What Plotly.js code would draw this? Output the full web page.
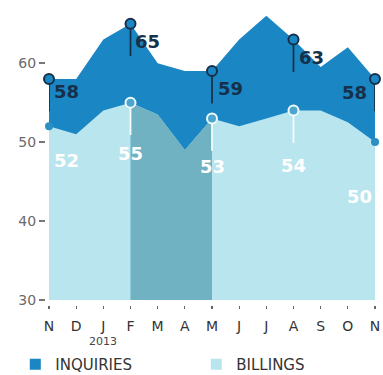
<!DOCTYPE html>
<html>
<head>
<meta charset="utf-8">
<script src="https://cdn.plot.ly/plotly-3.0.1.min.js"></script>
<style>
  html, body { margin: 0; padding: 0; background: #ffffff; }
  #chart { width: 383px; height: 375px; }
</style>
</head>
<body>
<div id="chart"></div>
<script>
// ---- data ----
const months = ['N','D','J','F','M','A','M','J','J','A','S','O','N'];
const yearLabel = '2013';
const yearIndex = 2;
const inquiries = [58, 58, 63, 65, 60, 59, 59, 63, 66, 63, 59.5, 62, 58];
const billings  = [52, 51, 54, 55, 53.5, 49, 53, 52, 53, 54, 54, 52.5, 50];
const inqLabelIdx = [0, 3, 6, 9, 12];
const bilLabelIdx = [0, 3, 6, 9, 12];
const bilLeaderIdx = [3, 6, 9];
const shadeFrom = 3, shadeTo = 6;
const yTicks = [30, 40, 50, 60];

// ---- styles ----
const BLUE = '#1a86c3';
const LIGHT = '#b9e5ee';
const SHADE = '#70b1c2';
const NAVY = '#17304a';
const FONT = 'DejaVu Sans, sans-serif';
const leaderLen = 4.1;
// per-label nudges (pixels) : [xanchor, xshift, yshift]
const inqNudge = [['left',3,0],['left',2,-5],['left',4,-5],['left',3,-6],['right',-6,-1]];
const bilNudge = [['left',3,-22],['center',0,-38],['center',0,-36],['center',0,-42],['right',-1,-42]];

const xs = months.map((_, i) => i);

const traces = [];
traces.push({ x: xs, y: inquiries, type: 'scatter', mode: 'lines', fill: 'tozeroy',
  fillcolor: BLUE, line: { width: 0, color: BLUE }, showlegend: false, hoverinfo: 'skip' });
traces.push({ x: xs, y: billings, type: 'scatter', mode: 'lines', fill: 'tozeroy',
  fillcolor: LIGHT, line: { width: 0, color: LIGHT }, showlegend: false, hoverinfo: 'skip' });
traces.push({ x: xs.slice(shadeFrom, shadeTo + 1), y: billings.slice(shadeFrom, shadeTo + 1),
  type: 'scatter', mode: 'lines', fill: 'tozeroy', fillcolor: SHADE,
  line: { width: 0, color: SHADE }, showlegend: false, hoverinfo: 'skip' });

// leader lines
const lx = [], ly = [];
inqLabelIdx.forEach(i => { lx.push(i, i, null); ly.push(inquiries[i], inquiries[i] - leaderLen, null); });
traces.push({ x: lx, y: ly, type: 'scatter', mode: 'lines', line: { color: NAVY, width: 1.8 },
  showlegend: false, hoverinfo: 'skip', cliponaxis: false });
const bx = [], by = [];
bilLeaderIdx.forEach(i => { bx.push(i, i, null); by.push(billings[i], billings[i] - leaderLen, null); });
traces.push({ x: bx, y: by, type: 'scatter', mode: 'lines', line: { color: '#f4fcfd', width: 1.8 },
  showlegend: false, hoverinfo: 'skip' });

// markers
traces.push({ x: inqLabelIdx, y: inqLabelIdx.map(i => inquiries[i]), type: 'scatter', mode: 'markers',
  marker: { size: 10, color: BLUE, line: { color: NAVY, width: 2 } }, showlegend: false,
  hoverinfo: 'skip', cliponaxis: false });
traces.push({ x: bilLeaderIdx, y: bilLeaderIdx.map(i => billings[i]), type: 'scatter', mode: 'markers',
  marker: { size: 10, color: '#4ea6cf', line: { color: '#eefafc', width: 2 } }, showlegend: false,
  hoverinfo: 'skip', cliponaxis: false });
const bilDots = bilLabelIdx.filter(i => bilLeaderIdx.indexOf(i) < 0);
traces.push({ x: bilDots, y: bilDots.map(i => billings[i]), type: 'scatter', mode: 'markers',
  marker: { size: 8, color: '#2a8fc2' }, showlegend: false, hoverinfo: 'skip', cliponaxis: false });

// legend entries
traces.push({ x: [null], y: [null], type: 'scatter', mode: 'markers', name: 'INQUIRIES',
  marker: { symbol: 'square', size: 11, color: BLUE } });
traces.push({ x: [null], y: [null], type: 'scatter', mode: 'markers', name: 'BILLINGS',
  marker: { symbol: 'square', size: 11, color: LIGHT } });

const annotations = [];
inqLabelIdx.forEach((i, k) => {
  const n = inqNudge[k];
  annotations.push({ x: i, y: inquiries[i], xref: 'x', yref: 'y', text: String(inquiries[i]),
    showarrow: false, xanchor: n[0], yanchor: 'top', xshift: n[1], yshift: n[2],
    font: { family: FONT, size: 18, color: NAVY, weight: 'bold' } });
});
bilLabelIdx.forEach((i, k) => {
  const n = bilNudge[k];
  annotations.push({ x: i, y: billings[i], xref: 'x', yref: 'y', text: String(billings[i]),
    showarrow: false, xanchor: n[0], yanchor: 'top', xshift: n[1], yshift: n[2],
    font: { family: FONT, size: 18, color: '#ffffff', weight: 'bold' } });
});
annotations.push({ x: yearIndex, y: 0, xref: 'x', yref: 'paper', text: yearLabel, showarrow: false,
  xanchor: 'center', yanchor: 'top', yshift: -28, font: { family: FONT, size: 11, color: '#444' } });

const layout = {
  width: 383, height: 375,
  margin: { l: 45, r: 8, t: 0, b: 70, autoexpand: false },
  paper_bgcolor: '#ffffff', plot_bgcolor: '#ffffff',
  showlegend: true,
  legend: { orientation: 'h', x: -0.09, xanchor: 'left',
    y: -0.195, yanchor: 'middle', entrywidth: 136, entrywidthmode: 'pixels',
    font: { family: FONT, size: 15, color: '#333' }, bgcolor: 'rgba(0,0,0,0)' },
  xaxis: { range: [0, 12], domain: [4/330, 1], anchor: 'free', position: 0,
    tickvals: xs, ticktext: months, ticks: 'outside', ticklen: 3, tickwidth: 1.2, tickcolor: '#666',
    ticklabelstandoff: 5, showline: false, showgrid: false, zeroline: false,
    tickfont: { family: FONT, size: 14, color: '#333' }, fixedrange: true },
  yaxis: { range: [30, 68], domain: [5/305, 1], anchor: 'free', position: 0,
    tickvals: yTicks, ticks: 'outside', ticklen: 6, tickwidth: 1.5, tickcolor: '#777',
    showline: false, showgrid: false, zeroline: false,
    tickfont: { family: FONT, size: 14, color: '#6a6a6a' }, fixedrange: true },
  annotations: annotations
};

Plotly.newPlot('chart', traces, layout, { displayModeBar: false, staticPlot: true });
</script>
</body>
</html>
